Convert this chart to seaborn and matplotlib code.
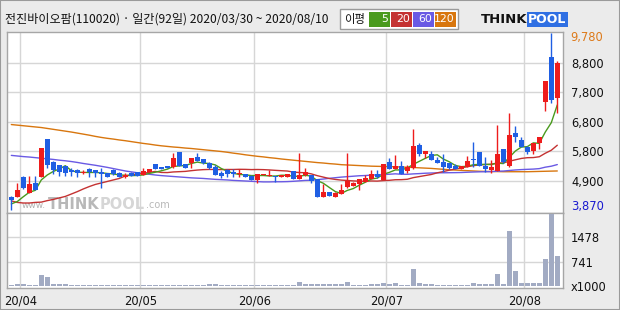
import numpy as np
import pandas as pd
import matplotlib
matplotlib.use("Agg")
import matplotlib.pyplot as plt
import seaborn as sns
from matplotlib.patches import Rectangle

# ---------------- data ----------------
title = "전진바이오팜(110020) · 일간(92일) 2020/03/30 ~ 2020/08/10"

opens = [4330, 4330, 4980, 4465, 4790, 5000, 6260, 5500, 5390, 5360,
         5220, 5220, 5120, 5250, 5220, 5170, 5110, 5220, 5130, 5000,
         5130, 5150, 5050, 5170, 5420, 5300, 5360, 5310, 5810, 5420,
         5470, 5670, 5590, 5470, 5330, 5110, 5220, 5170, 5090, 5090,
         5030, 4890, 5050, 5030, 5020, 5000, 5000, 5190, 4930, 5040,
         5060, 4920, 4330, 4490, 4330, 4420, 4640, 4690, 4755, 4830,
         4920, 5090, 4890, 5490, 5250, 5360, 5190, 5280, 6060, 5760,
         5760, 5560, 5480, 5450, 5370, 5250, 5330, 5590, 5810, 5360,
         5220, 5200, 5920, 5360, 6450, 6220, 6000, 5870, 6110, 7500,
         9000, 7640]
highs = [4350, 4780, 5020, 5020, 5020, 5960, 6260, 5530, 5390, 5360,
         5290, 5260, 5220, 5280, 5230, 5300, 5130, 5250, 5140, 5110,
         5150, 5160, 5300, 5260, 5430, 5310, 5370, 5780, 5820, 5430,
         5630, 5800, 5600, 5480, 5390, 5190, 5260, 5250, 5250, 5100,
         5050, 5100, 5100, 5220, 5030, 5040, 5090, 5200, 5800, 5280,
         5070, 4930, 4760, 4500, 4480, 4760, 5790, 4810, 4930, 5055,
         5220, 5220, 5430, 5610, 5720, 5520, 5390, 6590, 6130, 5870,
         5860, 5670, 5760, 5470, 5420, 5370, 5690, 6170, 5820, 5670,
         5560, 6730, 5930, 7140, 6690, 6310, 6010, 6120, 6320, 8200,
         9780, 8860]
lows = [3870, 4330, 4600, 4460, 4560, 4990, 5280, 5090, 5020, 5020,
        5020, 4990, 5100, 5000, 5000, 4610, 4990, 5050, 4990, 4960,
        5020, 5010, 5040, 5160, 5240, 5260, 5290, 5300, 5350, 5280,
        5300, 5520, 5430, 5250, 5040, 4960, 5000, 5000, 5000, 4980,
        4880, 4800, 5040, 5020, 4830, 4990, 4990, 4910, 4920, 5030,
        4800, 4320, 4320, 4340, 4310, 4410, 4630, 4680, 4555, 4820,
        4910, 4955, 4880, 5240, 5240, 5080, 5110, 5270, 5700, 5630,
        5550, 5440, 5170, 5250, 5240, 5240, 5320, 5310, 5350, 5170,
        5110, 5190, 5470, 5330, 6170, 5990, 5760, 5760, 5910, 7200,
        7470, 7120]
closes = [4220, 4555, 4620, 4755, 4570, 5960, 5380, 5210, 5170, 5110,
          5140, 5120, 5170, 5160, 5110, 5090, 5000, 5090, 5000, 5050,
          5030, 5030, 5180, 5250, 5250, 5270, 5300, 5620, 5360, 5300,
          5620, 5530, 5450, 5300, 5060, 5020, 5080, 5090, 5120, 5000,
          4890, 5090, 5090, 5050, 4980, 5030, 5080, 4920, 5060, 5150,
          4870, 4330, 4490, 4355, 4465, 4555, 4840, 4800, 4920, 4955,
          5090, 5000, 5420, 5250, 5360, 5090, 5330, 6020, 5760, 5860,
          5560, 5450, 5310, 5300, 5250, 5360, 5520, 5560, 5360, 5250,
          5330, 5760, 5480, 6390, 6310, 6000, 5830, 6110, 6310, 8200,
          7560, 8800]
volumes = [45, 65, 65, 45, 45, 330, 280, 60, 60, 60,
           45, 45, 45, 45, 45, 45, 45, 45, 45, 45,
           45, 45, 45, 45, 45, 45, 45, 45, 45, 45,
           45, 45, 45, 70, 70, 45, 45, 45, 45, 45,
           45, 45, 45, 45, 45, 45, 45, 45, 110, 50,
           50, 50, 50, 50, 50, 50, 130, 45, 45, 45,
           50, 50, 100, 55, 80, 45, 45, 515, 100, 55,
           55, 45, 45, 45, 45, 45, 45, 80, 75, 75,
           50, 365, 50, 1665, 455, 100, 80, 100, 100, 815,
           2180, 905]
ma5_head = [4090, 4170, 4330, 4480]
ma20_head = [4190, 4140, 4120, 4120, 4140, 4150, 4200, 4240, 4290, 4340,
             4420, 4500, 4590, 4670, 4740, 4790, 4840, 4890, 4940]
ma60_head = [5710, 5690, 5670, 5655, 5635, 5615, 5595, 5575, 5550, 5530,
             5505, 5475, 5440, 5410, 5380, 5345, 5310, 5270, 5230, 5190,
             5160, 5130, 5105, 5080, 5055, 5035, 5020, 5005, 4990, 4975,
             4960, 4950, 4940, 4925, 4910, 4900, 4890, 4875, 4865, 4855,
             4845, 4835, 4825, 4825, 4830, 4830, 4835, 4845, 4860, 4875,
             4880, 4900, 4920, 4945, 4965, 4985, 5000, 5015, 5030]
ma120 = [6740, 6720, 6700, 6680, 6660, 6640, 6610, 6580, 6550, 6520,
         6490, 6455, 6420, 6385, 6345, 6310, 6280, 6255, 6225, 6200,
         6170, 6140, 6110, 6085, 6055, 6030, 6010, 5990, 5975, 5955,
         5940, 5920, 5900, 5880, 5860, 5840, 5815, 5785, 5760, 5730,
         5705, 5680, 5660, 5635, 5615, 5590, 5570, 5550, 5530, 5510,
         5490, 5470, 5455, 5435, 5420, 5400, 5390, 5380, 5370, 5360,
         5350, 5345, 5340, 5335, 5330, 5320, 5315, 5305, 5295, 5285,
         5275, 5260, 5245, 5230, 5220, 5210, 5200, 5190, 5180, 5175,
         5170, 5170, 5165, 5165, 5165, 5165, 5165, 5170, 5175, 5180,
         5185, 5190]
price_max, price_min = 9780, 3870
price_tick_labels = ["4,900", "5,800", "6,800", "7,800", "8,800"]
vol_ticks = [741, 1478]
vol_tick_labels = ["741", "1478"]
month_start_idx = [2, 22, 41, 63, 86]
month_labels = ["20/04", "20/05", "20/06", "20/07", "20/08"]
ma_periods = ["5", "20", "60", "120"]

# ---------------- style ----------------
sns.set_theme(style="white")
plt.rcParams["font.family"] = ["DejaVu Sans"]
KR = ["Noto Sans CJK KR", "DejaVu Sans"]

BG = "#ebebeb"
GRID = "#d6d6d6"
FRAME = "#a6a6a6"
RED = "#ee1c1c"
BLUE = "#1f5fe3"
VOLC = "#a2abc3"
MA_COLORS = ["#4a9a1e", "#c43232", "#6a5ae4", "#d8760e"]

W, H = 620, 310
fig = plt.figure(figsize=(W / 100, H / 100), dpi=100, facecolor=BG)

def fx(px):
    return px / W

def fy(py):
    return 1 - py / H

L_PX, R_PX, T_PX, M_PX, B_PX = 7.3, 562.7, 31.7, 212.7, 288.0
ax = fig.add_axes([fx(L_PX), fy(M_PX), (R_PX - L_PX) / W, (M_PX - T_PX) / H])
axv = fig.add_axes([fx(L_PX), fy(B_PX), (R_PX - L_PX) / W, (B_PX - M_PX) / H])

def axfx(px):
    return (px - L_PX) / (R_PX - L_PX)

n = len(closes)
idx = np.arange(n)
O = np.array(opens, float)
Hh = np.array(highs, float)
Lo = np.array(lows, float)
C = np.array(closes, float)
up = C >= O
cols = np.where(up, RED, BLUE)

# moving averages
cs = pd.Series(C)
ma5 = np.r_[ma5_head, cs.rolling(5).mean().values[len(ma5_head):]]
ma20 = np.r_[ma20_head, cs.rolling(20).mean().values[len(ma20_head):]]
ma60 = np.r_[ma60_head, cs.rolling(60).mean().values[len(ma60_head):]]
ma120a = np.array(ma120, float)

# scales
span_px = 177.0
per_px = (price_max - price_min) / span_px
ax.set_ylim(price_min - 2.2 * per_px, price_max + 1.8 * per_px)
ax.set_xlim(-0.67, n - 0.1)
price_grid = np.linspace(price_min, price_max, 7)[1:-1]

for a in (ax, axv):
    a.set_facecolor("white")
    for s in a.spines.values():
        s.set_color(FRAME)
        s.set_linewidth(1.0)
    for m in month_start_idx:
        a.axvline(m - 0.5, color=GRID, lw=1.0, zorder=0)

for g in price_grid:
    ax.axhline(g, color=GRID, lw=1.0, zorder=0)

# watermark
ax.text(axfx(22), 0.015, "www.", transform=ax.transAxes, fontsize=6.5, color="#b0b0b0",
        va="bottom", ha="left", zorder=1)
ax.text(axfx(48), 0.003, "THINK", transform=ax.transAxes, fontsize=10.5, color="#b8b8b8",
        fontweight="bold", va="bottom", ha="left", zorder=1)
ax.text(axfx(100), 0.003, "POOL", transform=ax.transAxes, fontsize=10.5, color="#d6d6d6",
        fontweight="bold", va="bottom", ha="left", zorder=1)
ax.text(axfx(146), 0.015, ".com", transform=ax.transAxes, fontsize=7, color="#b8b8b8",
        va="bottom", ha="left", zorder=1)

# moving averages
for vals, c in zip([ma120a, ma60, ma20, ma5], MA_COLORS[::-1]):
    sns.lineplot(x=idx, y=vals, ax=ax, color=c, lw=1.0, zorder=2, legend=False)

# candles
ax.vlines(idx, Lo, Hh, colors=cols, lw=1.0, zorder=3)
body_h = np.maximum(np.abs(C - O), per_px * 1.2)
ax.bar(idx, body_h, bottom=np.minimum(O, C), width=0.8, color=cols, lw=0, zorder=4)

ax.set_xlabel("")
ax.set_ylabel("")
ax.set_xticks([])
ax.set_yticks(price_grid)
ax.set_yticklabels(price_tick_labels)
ax.yaxis.tick_right()
ax.tick_params(axis="y", length=0, pad=6, labelsize=8.3, labelcolor="#111111")
ax.set_xlim(-0.67, n - 0.1)

ax.annotate(f"{price_max:,}", xy=(1, price_max), xycoords=("axes fraction", "data"),
            xytext=(8, -4.5), textcoords="offset pixels", fontsize=8.3,
            color="#dd7a1a", va="center", ha="left", annotation_clip=False)
ax.annotate(f"{price_min:,}", xy=(1, price_min), xycoords=("axes fraction", "data"),
            xytext=(8, 3.5), textcoords="offset pixels", fontsize=8.3,
            color="#1a1ad0", va="center", ha="left", annotation_clip=False)

# volume
vdf = pd.DataFrame({"i": idx, "v": volumes})
sns.barplot(data=vdf, x="i", y="v", ax=axv, native_scale=True, color=VOLC,
            saturation=1, width=0.8, errorbar=None, zorder=3, linewidth=0)
for g in vol_ticks:
    axv.axhline(g, color=GRID, lw=1.0, zorder=0)
axv.set_ylim(-60, 2221)
axv.set_xlim(-0.67, n - 0.1)
axv.set_xlabel("")
axv.set_ylabel("")
axv.set_yticks(vol_ticks)
axv.set_yticklabels(vol_tick_labels)
axv.yaxis.tick_right()
axv.tick_params(axis="y", length=0, pad=6, labelsize=8.3, labelcolor="#111111")
axv.set_xticks([m - 0.5 for m in month_start_idx])
axv.set_xticklabels(month_labels)
axv.tick_params(axis="x", length=0, pad=5, labelsize=8.3, labelcolor="#111111")
axv.annotate("x1000", xy=(1, 0), xycoords=("axes fraction", "data"),
             xytext=(8, -1), textcoords="offset pixels", fontsize=8.3,
             color="#111111", va="center", ha="left", annotation_clip=False)

# title
fig.text(fx(5), fy(19), title, fontsize=8.7, family=KR, va="center", ha="left",
         color="#111111")

# MA legend box
fig.patches.append(Rectangle((fx(340), fy(29)), 118 / W, 20 / H, transform=fig.transFigure,
                             facecolor="white", edgecolor="#9a9a9a", lw=1.0))
fig.text(fx(344), fy(19.5), "이평", fontsize=8.2, family=KR, va="center", ha="left",
         color="#111111")
box_x = [369, 391, 413, 435]
box_w = [21, 21, 21, 21]
for bx, bw, lab, c in zip(box_x, box_w, ma_periods, MA_COLORS):
    fig.patches.append(Rectangle((fx(bx), fy(26.5)), bw / W, 14 / H, transform=fig.transFigure,
                                 facecolor=c, edgecolor="none"))
    fig.text(fx(bx + bw - 1.5), fy(19.5), lab, fontsize=7.8, va="center", ha="right",
             color="white")

# logo
fig.text(fx(481), fy(19.5), "THINK", fontsize=9.5, fontweight="bold", va="center",
         ha="left", color="#111111")
fig.text(fx(528), fy(19.5), "POOL", fontsize=9.0, fontweight="bold", va="center",
         ha="left", color="white",
         bbox=dict(boxstyle="square,pad=0.1", fc="#2f6fe3", ec="none"))

# outer border
fig.patches.append(Rectangle((0, 0), 1, 1, transform=fig.transFigure, facecolor="none",
                             edgecolor="#9a9a9a", lw=1.5))

fig.savefig("out.png", dpi=100, facecolor=BG)
